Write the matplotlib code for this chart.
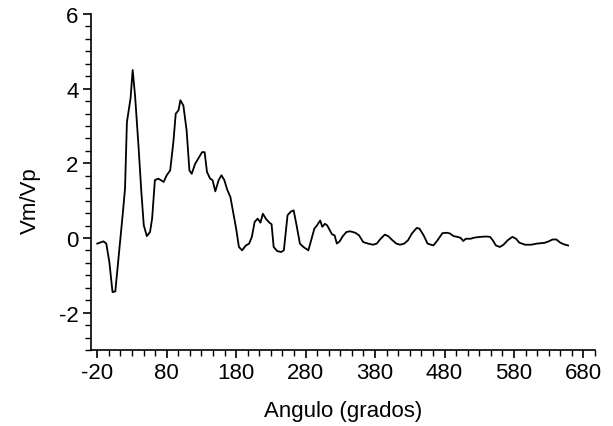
import numpy as np
import matplotlib
matplotlib.use('Agg')
import matplotlib.pyplot as plt
from matplotlib.ticker import MultipleLocator, FixedLocator

plt.rcParams['font.family'] = ['Liberation Sans', 'DejaVu Sans']
plt.rcParams['axes.unicode_minus'] = False

# datos
angulo = [-20, -11, -7, -2.6, 2, 6, 11.5, 17, 20, 22.7, 28, 31, 34.5, 39.6, 43.5,
          47, 51.4, 56, 59, 63, 67.7, 71.6, 75.6, 80, 85, 89.6, 93, 97, 99.7, 104,
          108.7, 112.7, 116, 121, 126.7, 131, 134.6, 138, 142.5, 146, 150, 154.8,
          158.8, 163, 167, 171.7, 175.6, 180, 184, 188.6, 194, 198.7, 202.6, 206.6,
          211, 215, 218.4, 223.4, 228, 231, 234, 239, 244.8, 248.7, 254, 259, 262.8,
          267, 271.8, 276.8, 284, 288, 292.6, 296.5, 301, 304, 307.8, 311, 315, 318,
          321.8, 325, 329, 333.6, 338.7, 344, 351.6, 357, 363, 370, 377, 382.5, 388,
          394, 399, 405, 410.7, 416, 422, 427.5, 433, 440, 444, 450, 455.6, 464, 470,
          477, 483.7, 488, 493, 499, 503.4, 507, 510.7, 517.5, 523, 531.5, 540,
          545.6, 549.5, 554, 559.6, 565, 571, 577.6, 583, 587.7, 596, 604.6, 613,
          624, 630, 635.5, 641, 646.8, 652, 658]
vm_vp = [-0.15, -0.09, -0.15, -0.64, -1.45, -1.43, -0.38, 0.7, 1.33, 3.1, 3.75, 4.5,
         3.8, 2.4, 1.23, 0.34, 0.05, 0.16, 0.52, 1.55, 1.59, 1.55, 1.5, 1.68, 1.81,
         2.57, 3.33, 3.42, 3.69, 3.55, 2.88, 1.81, 1.72, 1.99, 2.17, 2.3, 2.3, 1.77,
         1.59, 1.55, 1.25, 1.55, 1.68, 1.55, 1.3, 1.1, 0.7, 0.25, -0.24, -0.33, -0.2,
         -0.15, 0.03, 0.43, 0.52, 0.41, 0.65, 0.5, 0.41, 0.37, -0.24, -0.35, -0.375,
         -0.33, 0.61, 0.71, 0.74, 0.34, -0.15, -0.24, -0.33, -0.06, 0.25, 0.34, 0.47,
         0.3, 0.38, 0.34, 0.2, 0.1, 0.07, -0.15, -0.09, 0.05, 0.16, 0.18, 0.14, 0.07,
         -0.11, -0.15, -0.18, -0.15, -0.02, 0.09, 0.05, -0.06, -0.15, -0.18, -0.15,
         -0.06, 0.12, 0.27, 0.25, 0.07, -0.15, -0.2, -0.06, 0.13, 0.14, 0.12, 0.05,
         0.03, 0.0, -0.08, -0.02, -0.02, 0.01, 0.03, 0.04, 0.03, -0.06, -0.2, -0.24,
         -0.18, -0.06, 0.03, -0.02, -0.125, -0.18, -0.18, -0.15, -0.13, -0.09, -0.04,
         -0.04, -0.125, -0.17, -0.2]

x_ticks = [-20, 80, 180, 280, 380, 480, 580, 680]
y_ticks = [-2, 0, 2, 4, 6]

fig = plt.figure(figsize=(6.13, 4.27), dpi=100)
ax = fig.add_axes([91/613, 1 - 351/427, 504/613, 336/427])

ax.plot(angulo, vm_vp, color='black', linewidth=1.3)

ax.set_xlim(-29, 696.7)
ax.set_ylim(-3, 6)

ax.xaxis.set_major_locator(FixedLocator(x_ticks))
ax.xaxis.set_minor_locator(FixedLocator(np.arange(-20, 697, 100 / 6)))
ax.yaxis.set_major_locator(FixedLocator(y_ticks))
ax.yaxis.set_minor_locator(MultipleLocator(1 / 3))

for s in ['top', 'right']:
    ax.spines[s].set_visible(False)
for s in ['left', 'bottom']:
    ax.spines[s].set_linewidth(1.2)

ax.tick_params(which='major', length=6, width=1.2, labelsize=16, pad=3)
ax.tick_params(which='minor', length=4, width=1.0)

ax.set_xlabel('Angulo (grados)', fontsize=16)
ax.set_ylabel('Vm/Vp', fontsize=16)
ax.xaxis.set_label_coords(0.5, -0.18)
ax.xaxis.label.set_va('center')
ax.yaxis.set_label_coords(-0.121, 0.449)
ax.yaxis.label.set_va('center')

fig.savefig('out.png', dpi=100)
